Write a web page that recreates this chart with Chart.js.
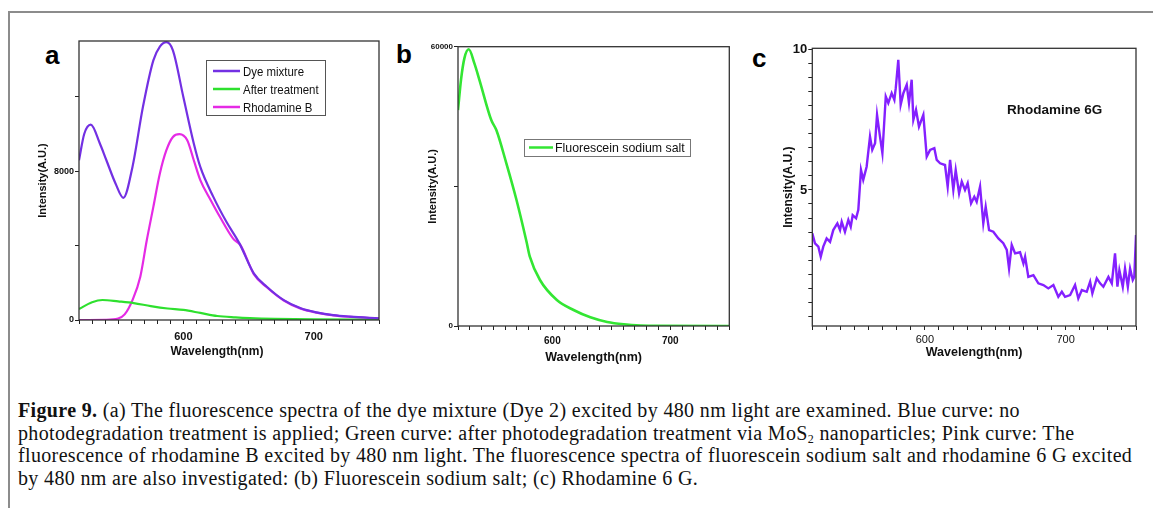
<!DOCTYPE html>
<html>
<head>
<meta charset="utf-8">
<script src="https://cdn.jsdelivr.net/npm/chart.js@4.4.1/dist/chart.umd.min.js"></script>
<style>
    body { margin: 0; background: #fff; width: 1153px; height: 508px; overflow: hidden; position: relative; font-family: "Liberation Sans", Arial, sans-serif; }
    .frame { position: absolute; left: 8px; top: 11px; width: 1200px; height: 560px; border-top: 2px solid #8c8c8c; border-left: 2px solid #8c8c8c; }
    canvas { position: absolute; }
    .tag { position: absolute; font: bold 26px/26px "Liberation Sans", Arial, sans-serif; color: #000; }
    .caption { position: absolute; left: 18px; top: 399px; font-family: "Liberation Serif", serif; font-size: 20px; letter-spacing: 0.35px; line-height: 22.7px; color: #111; white-space: nowrap; }
    .caption sub { font-size: 12px; vertical-align: -3px; line-height: 0; }
</style>
</head>
<body>
<div class="frame"></div>
<div class="tag" style="left:45px; top:42px;">a</div>
<div class="tag" style="left:396px; top:41px;">b</div>
<div class="tag" style="left:752px; top:45px;">c</div>
<canvas id="chartA" width="372" height="340" style="left:20px; top:28px;"></canvas>
<canvas id="chartB" width="340" height="335" style="left:400px; top:33px;"></canvas>
<canvas id="chartC" width="393" height="333" style="left:760px; top:35px;"></canvas>
<div class="caption">
    <div><b>Figure 9.</b> (a) The fluorescence spectra of the dye mixture (Dye 2) excited by 480 nm light are examined. Blue curve: no</div>
    <div>photodegradation treatment is applied; Green curve: after photodegradation treatment via MoS<sub>2</sub> nanoparticles; Pink curve: The</div>
    <div>fluorescence of rhodamine B excited by 480 nm light. The fluorescence spectra of fluorescein sodium salt and rhodamine 6 G excited</div>
    <div>by 480 nm are also investigated: (b) Fluorescein sodium salt; (c) Rhodamine 6 G.</div>
</div>
<script>
// ---- data ----
// (a) dye mixture, after treatment, rhodamine B
const dyeWavelength = [520, 524, 529, 536, 541, 548, 554, 561, 569, 577, 582, 587, 592, 600, 608, 613, 623, 633, 643, 654, 664, 677, 690, 702, 715, 728, 750];
const dyeIntensity = [8590, 10000, 10500, 9490, 8590, 7340, 6570, 8230, 11450, 13960, 14700, 14940, 14500, 11990, 9490, 8230, 6620, 5280, 4120, 2510, 1790, 1070, 630, 410, 260, 180, 90];

const treatedWavelength = [520, 530, 538, 550, 562, 575, 588, 600, 613, 626, 640, 651, 670, 700, 750];
const treatedIntensity = [590, 950, 1074, 1000, 910, 750, 620, 540, 380, 215, 140, 100, 60, 30, 10];

const rhodBWavelength = [520, 540, 550, 555, 561, 567, 572, 577, 582, 587, 592, 597, 603, 608, 613, 621, 628, 638, 644, 654, 664, 677, 690, 702, 715, 728, 750];
const rhodBIntensity = [0, 10, 80, 300, 1070, 2330, 4300, 6080, 7880, 9130, 9840, 9990, 9660, 8590, 7520, 6440, 5550, 4390, 4000, 2470, 1760, 1050, 610, 400, 250, 170, 80];

// (b) fluorescein sodium salt
const fluorWavelength = [520, 522.6, 525.4, 529.1, 533.9, 538.2, 548.2, 552.5, 561, 569.6, 578.1, 580.9, 589.5, 603.8, 618, 632.2, 646.5, 660.7, 675, 689, 750];
const fluorIntensity = [46400, 53000, 57500, 59440, 56430, 52840, 44250, 42100, 34940, 27070, 18100, 14890, 9880, 5585, 3440, 1860, 860, 360, 100, 20, 0];

// (c) rhodamine 6G (noisy trace)
const r6gWavelength = [520.0, 521.9, 524.3, 526.0, 527.8, 530.2, 532.6, 534.9, 537.8, 539.7, 540.9, 543.2, 545.6, 547.3, 548.7, 551.1, 552.7, 554.6, 556.2, 558.6, 561.0, 562.6, 564.6, 566.0, 568.1, 569.8, 572.2, 574.0, 576.4, 578.3, 579.3, 581.1, 582.8, 584.7, 587.1, 588.7, 590.6, 591.8, 593.7, 595.8, 598.9, 601.3, 603.7, 606.7, 608.4, 610.8, 614.3, 616.2, 617.9, 620.2, 621.9, 624.3, 626.2, 628.5, 630.4, 632.8, 635.1, 636.8, 639.2, 641.5, 643.2, 645.6, 648.6, 652.2, 655.7, 658.2, 659.8, 661.7, 664.1, 667.6, 670.0, 671.2, 673.5, 677.1, 680.6, 684.2, 687.7, 691.3, 694.8, 697.3, 699.6, 703.2, 706.7, 709.0, 711.5, 715.0, 717.4, 719.0, 722.1, 724.5, 726.8, 730.4, 732.8, 735.1, 736.8, 738.2, 740.6, 742.2, 744.2, 745.8, 747.7, 748.8, 750.0];
const r6gIntensity = [3.45, 3.1, 2.98, 2.62, 2.98, 3.27, 3.15, 3.57, 3.81, 3.57, 3.87, 3.51, 3.93, 3.69, 4.1, 3.99, 4.29, 5.71, 5.36, 5.83, 6.9, 6.43, 6.67, 7.68, 6.9, 6.31, 8.33, 8.1, 8.45, 8.21, 8.63, 9.64, 8.04, 8.45, 8.75, 8.1, 8.93, 7.5, 7.86, 7.26, 7.68, 6.19, 6.43, 6.49, 6.07, 5.95, 5.89, 5.12, 6.07, 5.0, 5.71, 4.88, 5.3, 5.0, 5.24, 4.52, 4.76, 4.58, 5.12, 3.81, 4.4, 3.57, 3.51, 3.27, 3.1, 2.86, 2.2, 3.04, 2.74, 2.78, 2.38, 2.62, 1.9, 1.96, 1.67, 1.61, 1.49, 1.61, 1.19, 1.37, 1.19, 1.25, 1.61, 1.13, 1.43, 1.37, 1.73, 1.31, 1.85, 1.67, 1.55, 1.9, 1.67, 2.74, 1.55, 2.14, 1.55, 2.2, 1.55, 2.2, 1.79, 1.9, 3.39];

// axis ticks (marks) and the ones that carry a label
const xTicks = [520, 530, 540, 550, 560, 570, 580, 590, 600, 610, 620, 630, 640, 650, 660, 670, 680, 690, 700, 710, 720, 730, 740, 750];
const xTickLabels = [600, 700];
const yTicksA = [0, 4000, 8000, 12000];
const yTickLabelsA = [0, 8000];
const yTicksB = [0, 30000, 60000];
const yTickLabelsB = [0, 60000];
const yTicksC = [0.5, 1, 1.5, 2, 2.5, 3, 3.5, 4, 4.5, 5, 5.5, 6, 6.5, 7, 7.5, 8, 8.5, 9, 9.5, 10];
const yTickLabelsC = [5, 10];

function toPoints(xs, ys) {
    return xs.map((x, i) => ({ x: x, y: ys[i] }));
}

// box around the plot area
const frameBox = {
    id: 'frameBox',
    afterDatasetsDraw(chart) {
        const a = chart.chartArea;
        const ctx = chart.ctx;
        ctx.save();
        ctx.strokeStyle = '#333';
        ctx.lineWidth = 1.3;
        ctx.strokeRect(a.left, a.top, a.right - a.left, a.bottom - a.top);
        ctx.restore();
    }
};

// legend drawn inside the plot, like the original figure
const boxLegend = {
    id: 'boxLegend',
    afterDraw(chart, args, opts) {
        if (!opts.box) return;
        const ctx = chart.ctx;
        const b = opts.box;
        ctx.save();
        ctx.strokeStyle = opts.borderColor || '#555';
        ctx.lineWidth = 1;
        ctx.strokeRect(b[0] + 0.5, b[1] + 0.5, b[2] - b[0], b[3] - b[1]);
        chart.data.datasets.forEach((ds, i) => {
            const y = opts.rows[i];
            ctx.strokeStyle = ds.borderColor;
            ctx.lineWidth = 2.5;
            ctx.beginPath();
            ctx.moveTo(opts.lineX[0], y);
            ctx.lineTo(opts.lineX[1], y);
            ctx.stroke();
            ctx.save();
            ctx.translate(opts.textX, y);
            ctx.scale(opts.squeeze || 1, 1);
            ctx.fillStyle = '#111';
            ctx.font = opts.font;
            ctx.textBaseline = 'middle';
            ctx.fillText(ds.label, 0, 1);
            ctx.restore();
        });
        ctx.restore();
    }
};

const noteText = {
    id: 'noteText',
    afterDraw(chart, args, opts) {
        if (!opts.text) return;
        const ctx = chart.ctx;
        ctx.save();
        ctx.fillStyle = '#111';
        ctx.font = opts.font;
        ctx.textBaseline = 'middle';
        ctx.fillText(opts.text, opts.x, opts.y);
        ctx.restore();
    }
};

Chart.register(frameBox, boxLegend, noteText);
Chart.defaults.font.family = '"Liberation Sans", Arial, sans-serif';

function xAxis(axisHeight, tickFont, tickPad, titleFont, titleText, titlePad) {
    return {
        type: 'linear',
        min: 520,
        max: 750,
        afterFit: function(scale) { scale.height = axisHeight; },
        afterBuildTicks: function(scale) {
            scale.ticks = xTicks.map(v => ({ value: v }));
        },
        grid: { display: true, drawOnChartArea: false, drawTicks: true, tickLength: 4, color: '#222', lineWidth: 1 },
        border: { display: false },
        ticks: {
            autoSkip: false,
            maxRotation: 0,
            minRotation: 0,
            padding: tickPad,
            color: '#111',
            font: tickFont,
            callback: function(value) {
                return xTickLabels.includes(value) ? String(value) : '';
            }
        },
        title: { display: true, text: titleText, color: '#111', font: titleFont, padding: { top: 0, bottom: titlePad } }
    };
}

function yAxis(axisWidth, min, max, tickValues, labels, tickFont, titleFont, titlePad) {
    return {
        min: min,
        max: max,
        afterFit: function(scale) { scale.width = axisWidth; },
        afterBuildTicks: function(scale) {
            scale.ticks = tickValues.map(v => ({ value: v }));
        },
        grid: { drawOnChartArea: false, drawTicks: true, tickLength: 4, color: '#222', lineWidth: 1 },
        border: { display: false },
        ticks: {
            autoSkip: false,
            padding: 1,
            color: '#111',
            font: tickFont,
            callback: function(value) {
                return labels.includes(value) ? String(value) : '';
            }
        },
        title: { display: true, text: 'Intensity(A.U.)', color: '#111', font: titleFont, padding: { top: titlePad, bottom: 0 } }
    };
}

const lineDefaults = { pointRadius: 0, fill: false, cubicInterpolationMode: 'monotone' };

document.addEventListener('DOMContentLoaded', function() {
    // Panel a
    new Chart(document.getElementById('chartA').getContext('2d'), {
        type: 'line',
        data: {
            datasets: [
                Object.assign({ label: 'Dye mixture', data: toPoints(dyeWavelength, dyeIntensity), borderColor: '#7330e3', borderWidth: 2.2 }, lineDefaults),
                Object.assign({ label: 'After treatment', data: toPoints(treatedWavelength, treatedIntensity), borderColor: '#2ee02e', borderWidth: 2.2 }, lineDefaults),
                Object.assign({ label: 'Rhodamine B', data: toPoints(rhodBWavelength, rhodBIntensity), borderColor: '#e52ae5', borderWidth: 2.2 }, lineDefaults)
            ]
        },
        options: {
            responsive: false,
            animation: false,
            devicePixelRatio: 1,
            layout: { padding: { top: 13, right: 13, left: 0, bottom: 0 } },
            scales: {
                x: xAxis(48, { size: 11, weight: 'bold' }, 6, { size: 12, weight: 'bold' }, 'Wavelength(nm)\u2002\u2002\u2002\u2002', 8.8),
                y: yAxis(59, 0, 15000, yTicksA, yTickLabelsA, { size: 9, weight: 'bold' }, { size: 11, weight: 'bold' }, 16.4)
            },
            plugins: {
                legend: { display: false },
                tooltip: { enabled: false },
                boxLegend: {
                    box: [186, 32, 305, 87],
                    rows: [43, 61, 79],
                    lineX: [193, 220],
                    textX: 223,
                    font: '13px "Liberation Sans", Arial, sans-serif',
                    squeeze: 0.88,
                    borderColor: '#555'
                }
            }
        }
    });

    // Panel b
    new Chart(document.getElementById('chartB').getContext('2d'), {
        type: 'line',
        data: {
            datasets: [
                Object.assign({ label: 'Fluorescein sodium salt', data: toPoints(fluorWavelength, fluorIntensity), borderColor: '#33e633', borderWidth: 2.6 }, lineDefaults)
            ]
        },
        options: {
            responsive: false,
            animation: false,
            devicePixelRatio: 1,
            layout: { padding: { top: 13.7, right: 10.7, left: 0, bottom: 0 } },
            scales: {
                x: xAxis(42, { size: 10, weight: 'bold' }, 5.5, { size: 12.5, weight: 'bold' }, 'Wavelength(nm)', 2.8),
                y: yAxis(58, 0, 60000, yTicksB, yTickLabelsB, { size: 8, weight: 'bold' }, { size: 11, weight: 'bold' }, 26.4)
            },
            plugins: {
                legend: { display: false },
                tooltip: { enabled: false },
                boxLegend: {
                    box: [124, 106, 290, 123],
                    rows: [114.5],
                    lineX: [129, 153],
                    textX: 155,
                    font: '13px "Liberation Sans", Arial, sans-serif',
                    squeeze: 0.95,
                    borderColor: '#777'
                }
            }
        }
    });

    // Panel c
    new Chart(document.getElementById('chartC').getContext('2d'), {
        type: 'line',
        data: {
            datasets: [
                { label: 'Rhodamine 6G', data: toPoints(r6gWavelength, r6gIntensity), borderColor: '#8420ff', borderWidth: 2.4, pointRadius: 0, fill: false, tension: 0 }
            ]
        },
        options: {
            responsive: false,
            animation: false,
            devicePixelRatio: 1,
            layout: { padding: { top: 13.3, right: 17, left: 0, bottom: 0 } },
            scales: {
                x: xAxis(42, { size: 11 }, 3, { size: 12.5, weight: 'bold' }, 'Wavelength(nm)', 7.5),
                y: yAxis(52.3, 0.15, 10.05, yTicksC, yTickLabelsC, { size: 13, weight: 'bold' }, { size: 12, weight: 'bold' }, 21.1)
            },
            plugins: {
                legend: { display: false },
                tooltip: { enabled: false },
                noteText: { text: 'Rhodamine 6G', x: 247, y: 75, font: 'bold 13.5px "Liberation Sans", Arial, sans-serif' }
            }
        }
    });
});
</script>
</body>
</html>
